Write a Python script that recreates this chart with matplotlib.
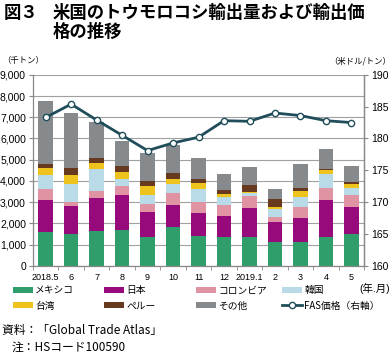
import matplotlib
matplotlib.use('Agg')
import matplotlib.pyplot as plt
import numpy as np

plt.rcParams['font.family'] = ['Liberation Sans', 'Noto Sans CJK JP', 'DejaVu Sans']

months = ['2018.5', '6', '7', '8', '9', '10', '11', '12', '2019.1', '2', '3', '4', '5']

# cumulative tops (thousand tons), converted to segments below
tops_mexico = [1590, 1490, 1620, 1680, 1350, 1820, 1410, 1370, 1350, 1100, 1100, 1370, 1510]
tops_japan = [3100, 2830, 3210, 3350, 2530, 2870, 2500, 2360, 2730, 2070, 2260, 3110, 2780]
tops_colombia = [3610, 3020, 3530, 3760, 2910, 3410, 3000, 2870, 3270, 2310, 2780, 3660, 3330]
tops_korea = [4270, 3850, 4540, 4090, 3360, 3860, 3600, 3250, 3410, 2660, 3220, 4320, 3680]
tops_taiwan = [4600, 4270, 4850, 4420, 3740, 4100, 3880, 3380, 3490, 2750, 3520, 4500, 3860]
tops_peru = [4820, 4600, 5080, 4700, 4010, 4370, 4100, 3580, 3800, 3130, 3690, 4570, 3930]
tops_other = [7780, 7200, 6770, 5860, 5300, 5670, 5080, 4320, 4670, 3610, 4780, 5490, 4700]

fas_price = [183.3, 185.4, 182.9, 180.5, 178.1, 179.3, 180.2, 182.8, 182.7, 184.0, 183.6, 182.8, 182.5]

names = ['メキシコ', '日本', 'コロンビア', '韓国', '台湾', 'ペルー', 'その他']
colors = ['#2f9e6b', '#960a7c', '#e093a3', '#b9dbe7', '#eec31e', '#673a1f', '#878a8d']

tops = np.array([tops_mexico, tops_japan, tops_colombia, tops_korea,
                 tops_taiwan, tops_peru, tops_other], dtype=float)
segs = np.diff(np.vstack([np.zeros(len(months)), tops]), axis=0)

fig = plt.figure(figsize=(3.92, 3.53), dpi=100)
ax = fig.add_axes([0.084, 0.247, 0.845, 0.541])

x = np.arange(len(months))
bottom = np.zeros(len(months))
handles = []
for name, col, s in zip(names, colors, segs):
    h = ax.bar(x, s, bottom=bottom, width=0.57, color=col, label=name, zorder=2)
    bottom += s
    handles.append(h)

ax.set_ylim(0, 9000)
ax.set_xlim(-0.5, len(months) - 0.5)
ax.set_yticks(np.arange(0, 9001, 1000))
ax.set_yticklabels([f'{v:,}' for v in range(0, 9001, 1000)])
ax.yaxis.grid(True, color='#a0a0a0', lw=0.8, zorder=0)
ax.set_xticks(x)
ax.set_xticklabels(months)
ax.set_xticks(np.arange(-0.5, len(months), 1), minor=True)
ax.tick_params(axis='x', which='major', length=0, labelsize=6.5, pad=5)
ax.tick_params(axis='x', which='minor', length=3, color='#888888')
ax.tick_params(axis='y', labelsize=7.5, length=3, color='#888888', pad=2)
ax.spines['top'].set_visible(False)
for sp in ['left', 'bottom', 'right']:
    ax.spines[sp].set_color('#888888')
    ax.spines[sp].set_linewidth(0.9)

ax2 = ax.twinx()
line, = ax2.plot(x, fas_price, color='#1f4e5a', lw=2, marker='o', ms=4.5,
                 mfc='white', mec='#1f4e5a', mew=1.0, zorder=5)
ax2.set_ylim(160, 190)
ax2.set_yticks(np.arange(160, 191, 5))
ax2.tick_params(axis='y', labelsize=7.5, length=3, color='#888888', pad=2)
for sp in ['top', 'left', 'bottom']:
    ax2.spines[sp].set_visible(False)
ax2.spines['right'].set_color('#888888')
ax2.spines['right'].set_linewidth(0.9)

# title and notes
cjk = ['Noto Sans CJK JP']
fig.text(0.01, 0.99, '図３', fontsize=12.5, fontweight='bold', va='top', family=cjk)
fig.text(0.135, 0.99, '米国のトウモロコシ輸出量および輸出価\n格の推移', fontsize=12.5,
         fontweight='bold', va='top', linespacing=1.1, family=cjk)
fig.text(0.005, 0.828, '（千トン）', fontsize=6, va='center', family=cjk)
fig.text(0.998, 0.828, '（米ドル/トン）', fontsize=6, va='center', ha='right', family=cjk)
fig.text(0.995, 0.184, '(年.月)', fontsize=7.5, va='center', ha='right',
         family=['Liberation Sans', 'Noto Sans CJK JP'])

# legend: 4 fixed columns, 2 rows
columns = [[handles[0], handles[4]], [handles[1], handles[5]],
           [handles[2], handles[6]], [handles[3], line]]
col_labels = [[names[0], names[4]], [names[1], names[5]],
              [names[2], names[6]], [names[3], 'FAS価格（右軸）']]
col_x = [13, 104, 196, 282]
for hs, ls, cx in zip(columns, col_labels, col_x):
    fig.legend(hs, ls, loc='upper left', bbox_to_anchor=(cx / 392, 0.192),
               frameon=False, handlelength=2.1, handleheight=0.5,
               handletextpad=0.2, labelspacing=0.55, borderaxespad=0,
               borderpad=0, prop={'family': cjk, 'size': 7})

fig.text(0.005, 0.065, '資料：「Global Trade Atlas」', fontsize=8.5, va='center', family=cjk)
fig.text(0.03, 0.015, '注：HSコード100590', fontsize=8.5, va='center', family=cjk)

plt.savefig('out.png', dpi=100)
